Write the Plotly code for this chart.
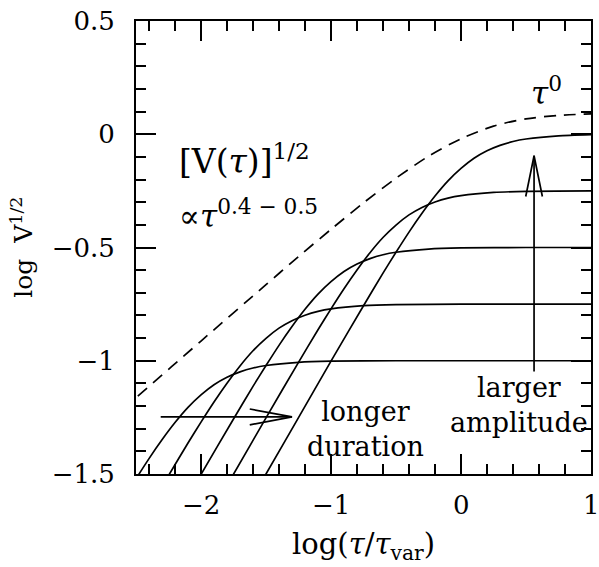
import plotly.graph_objects as go

# ---- data ----
c1_x = [-2.6, -2.5, -2.4, -2.3, -2.2, -2.1, -2.0, -1.9, -1.8, -1.7, -1.6, -1.5, -1.25, -1.0, -0.5, 0.0, 0.5, 1.0]
c1_y = [-1.613, -1.521, -1.432, -1.349, -1.273, -1.206, -1.151, -1.106, -1.073, -1.049, -1.032, -1.021, -1.007, -1.002, -1.0, -1.0, -1.0, -1.0]

c2_x = [-2.35, -2.25, -2.1, -2.0, -1.9, -1.8, -1.7, -1.6, -1.5, -1.4, -1.3, -1.2, -1.1, -1.0, -0.75, -0.5, 0.0, 0.5, 1.0]
c2_y = [-1.60, -1.507, -1.363, -1.271, -1.182, -1.099, -1.023, -0.956, -0.901, -0.856, -0.823, -0.799, -0.782, -0.771, -0.757, -0.752, -0.750, -0.75, -0.75]

c3_x = [-2.1, -2.0, -1.75, -1.6, -1.5, -1.4, -1.3, -1.2, -1.1, -1.0, -0.9, -0.8, -0.7, -0.6, -0.5, -0.25, 0.0, 0.5, 1.0]
c3_y = [-1.601, -1.502, -1.257, -1.113, -1.021, -0.932, -0.849, -0.773, -0.706, -0.651, -0.606, -0.573, -0.549, -0.532, -0.521, -0.507, -0.502, -0.50, -0.50]

c4_x = [-1.85, -1.75, -1.5, -1.25, -1.1, -1.0, -0.9, -0.8, -0.7, -0.6, -0.5, -0.4, -0.3, -0.2, -0.1, 0.0, 0.25, 0.5, 1.0]
c4_y = [-1.600, -1.501, -1.252, -1.007, -0.863, -0.771, -0.682, -0.599, -0.523, -0.456, -0.401, -0.356, -0.323, -0.299, -0.282, -0.271, -0.257, -0.252, -0.250]

c5_x = [-1.6, -1.5, -1.25, -1.0, -0.75, -0.6, -0.5, -0.4, -0.3, -0.2, -0.1, 0.0, 0.1, 0.2, 0.3, 0.4, 0.5, 0.75, 1.0]
c5_y = [-1.600, -1.500, -1.251, -1.002, -0.757, -0.613, -0.521, -0.432, -0.349, -0.273, -0.206, -0.151, -0.106, -0.073, -0.049, -0.032, -0.021, -0.007, -0.002]

dash_x = [-2.6, -2.5, -2.0, -1.5, -1.25, -1.0, -0.75, -0.5, -0.25, 0.0, 0.25, 0.5, 0.75, 1.0]
dash_y = [-1.213, -1.163, -0.913, -0.664, -0.540, -0.420, -0.303, -0.194, -0.097, -0.020, 0.036, 0.068, 0.083, 0.090]

# x-axis tick labels
x_tick_vals = [-2, -1, 0, 1]
x_tick_text = ["−2", "−1", "0", "1"]

# arrows (annotation geometry)
harrow_x = [-2.31, -1.30]
harrow_y = [-1.248, -1.248]
harrow_head_x = [-1.625, -1.30, -1.625]
harrow_head_y = [-1.213, -1.248, -1.283]
varrow_x = [0.562, 0.562]
varrow_y = [-1.048, -0.095]
varrow_head_x = [0.498, 0.562, 0.626]
varrow_head_y = [-0.275, -0.095, -0.275]

FONT = "DejaVu Serif"
LW = 1.7

fig = go.Figure()
for xs, ys in [(c1_x, c1_y), (c2_x, c2_y), (c3_x, c3_y), (c4_x, c4_y), (c5_x, c5_y)]:
    fig.add_trace(go.Scatter(x=xs, y=ys, mode="lines", line=dict(color="black", width=LW, shape="spline", smoothing=0.6),
                             hoverinfo="skip", showlegend=False))
fig.add_trace(go.Scatter(x=dash_x, y=dash_y, mode="lines",
                         line=dict(color="black", width=LW, dash="12px,8px", shape="spline", smoothing=0.8),
                         showlegend=False, hoverinfo="skip"))
for xs, ys in [(harrow_x, harrow_y), (harrow_head_x, harrow_head_y), (varrow_x, varrow_y), (varrow_head_x, varrow_head_y)]:
    fig.add_trace(go.Scatter(x=xs, y=ys, mode="lines", line=dict(color="black", width=LW),
                             showlegend=False, hoverinfo="skip"))

ann_font = dict(family=FONT, size=27, color="black")
fig.add_annotation(x=-2.185, y=-0.11, xanchor="left", yanchor="middle", showarrow=False,
                   text="[V(<i>τ</i>)]<sup>1/2</sup>", font=dict(family=FONT, size=33, color="black"))
fig.add_annotation(x=-2.185, y=-0.35, xanchor="left", yanchor="middle", showarrow=False,
                   text="∝<i>τ</i><sup>0.4 − 0.5</sup>", font=dict(family=FONT, size=31, color="black"))
fig.add_annotation(x=0.523, y=0.192, xanchor="left", yanchor="middle", showarrow=False,
                   text="<i>τ</i><sup>0</sup>", font=dict(family=FONT, size=31, color="black"))
fig.add_annotation(x=0.446, y=-1.194, xanchor="center", yanchor="middle", showarrow=False,
                   text="larger<br>amplitude", font=ann_font)
fig.add_annotation(x=-0.731, y=-1.303, xanchor="center", yanchor="middle", showarrow=False,
                   text="longer<br>duration", font=ann_font)
# x tick labels (placed on the data scale)
for v, t in zip(x_tick_vals, x_tick_text):
    fig.add_annotation(x=v, y=-0.068, xref="x", yref="paper", xanchor="center", yanchor="middle",
                       showarrow=False, text=t, font=dict(family=FONT, size=26, color="black"))
# axis titles
fig.add_annotation(x=0.5, y=-0.16, xref="paper", yref="paper", xanchor="center", yanchor="middle",
                   showarrow=False, text="log(<i>τ</i>/<i>τ</i><sub>var</sub>)", font=dict(family=FONT, size=29, color="black"))
fig.add_annotation(x=-0.25, y=0.5, xref="paper", yref="paper", xanchor="center", yanchor="middle",
                   showarrow=False, textangle=-90, text="log  V<sup>1/2</sup>", font=dict(family=FONT, size=25, color="black"))

axis_common = dict(ticks="inside", showline=True, linewidth=2, linecolor="black", mirror="allticks",
                   showgrid=False, zeroline=False, tickcolor="black", tickwidth=1.5,
                   tickfont=dict(family=FONT, size=26, color="black"))
fig.update_xaxes(range=[-2.5, 1], tickmode="linear", tick0=0, dtick=1, ticklen=20, showticklabels=False,
                 minor=dict(dtick=0.2, ticks="inside", ticklen=10, tickwidth=1.5, tickcolor="black"),
                 **axis_common)
fig.update_yaxes(range=[-1.5, 0.5], tickmode="linear", tick0=0, dtick=0.5, ticklen=20,
                 minor=dict(dtick=0.1, ticks="inside", ticklen=10, tickwidth=1.5, tickcolor="black"),
                 ticklabelstandoff=14, **axis_common)
fig.update_layout(width=599, height=567, margin=dict(l=136, r=6, t=17, b=93),
                  paper_bgcolor="white", plot_bgcolor="white", showlegend=False)
fig.write_html("out.html")
